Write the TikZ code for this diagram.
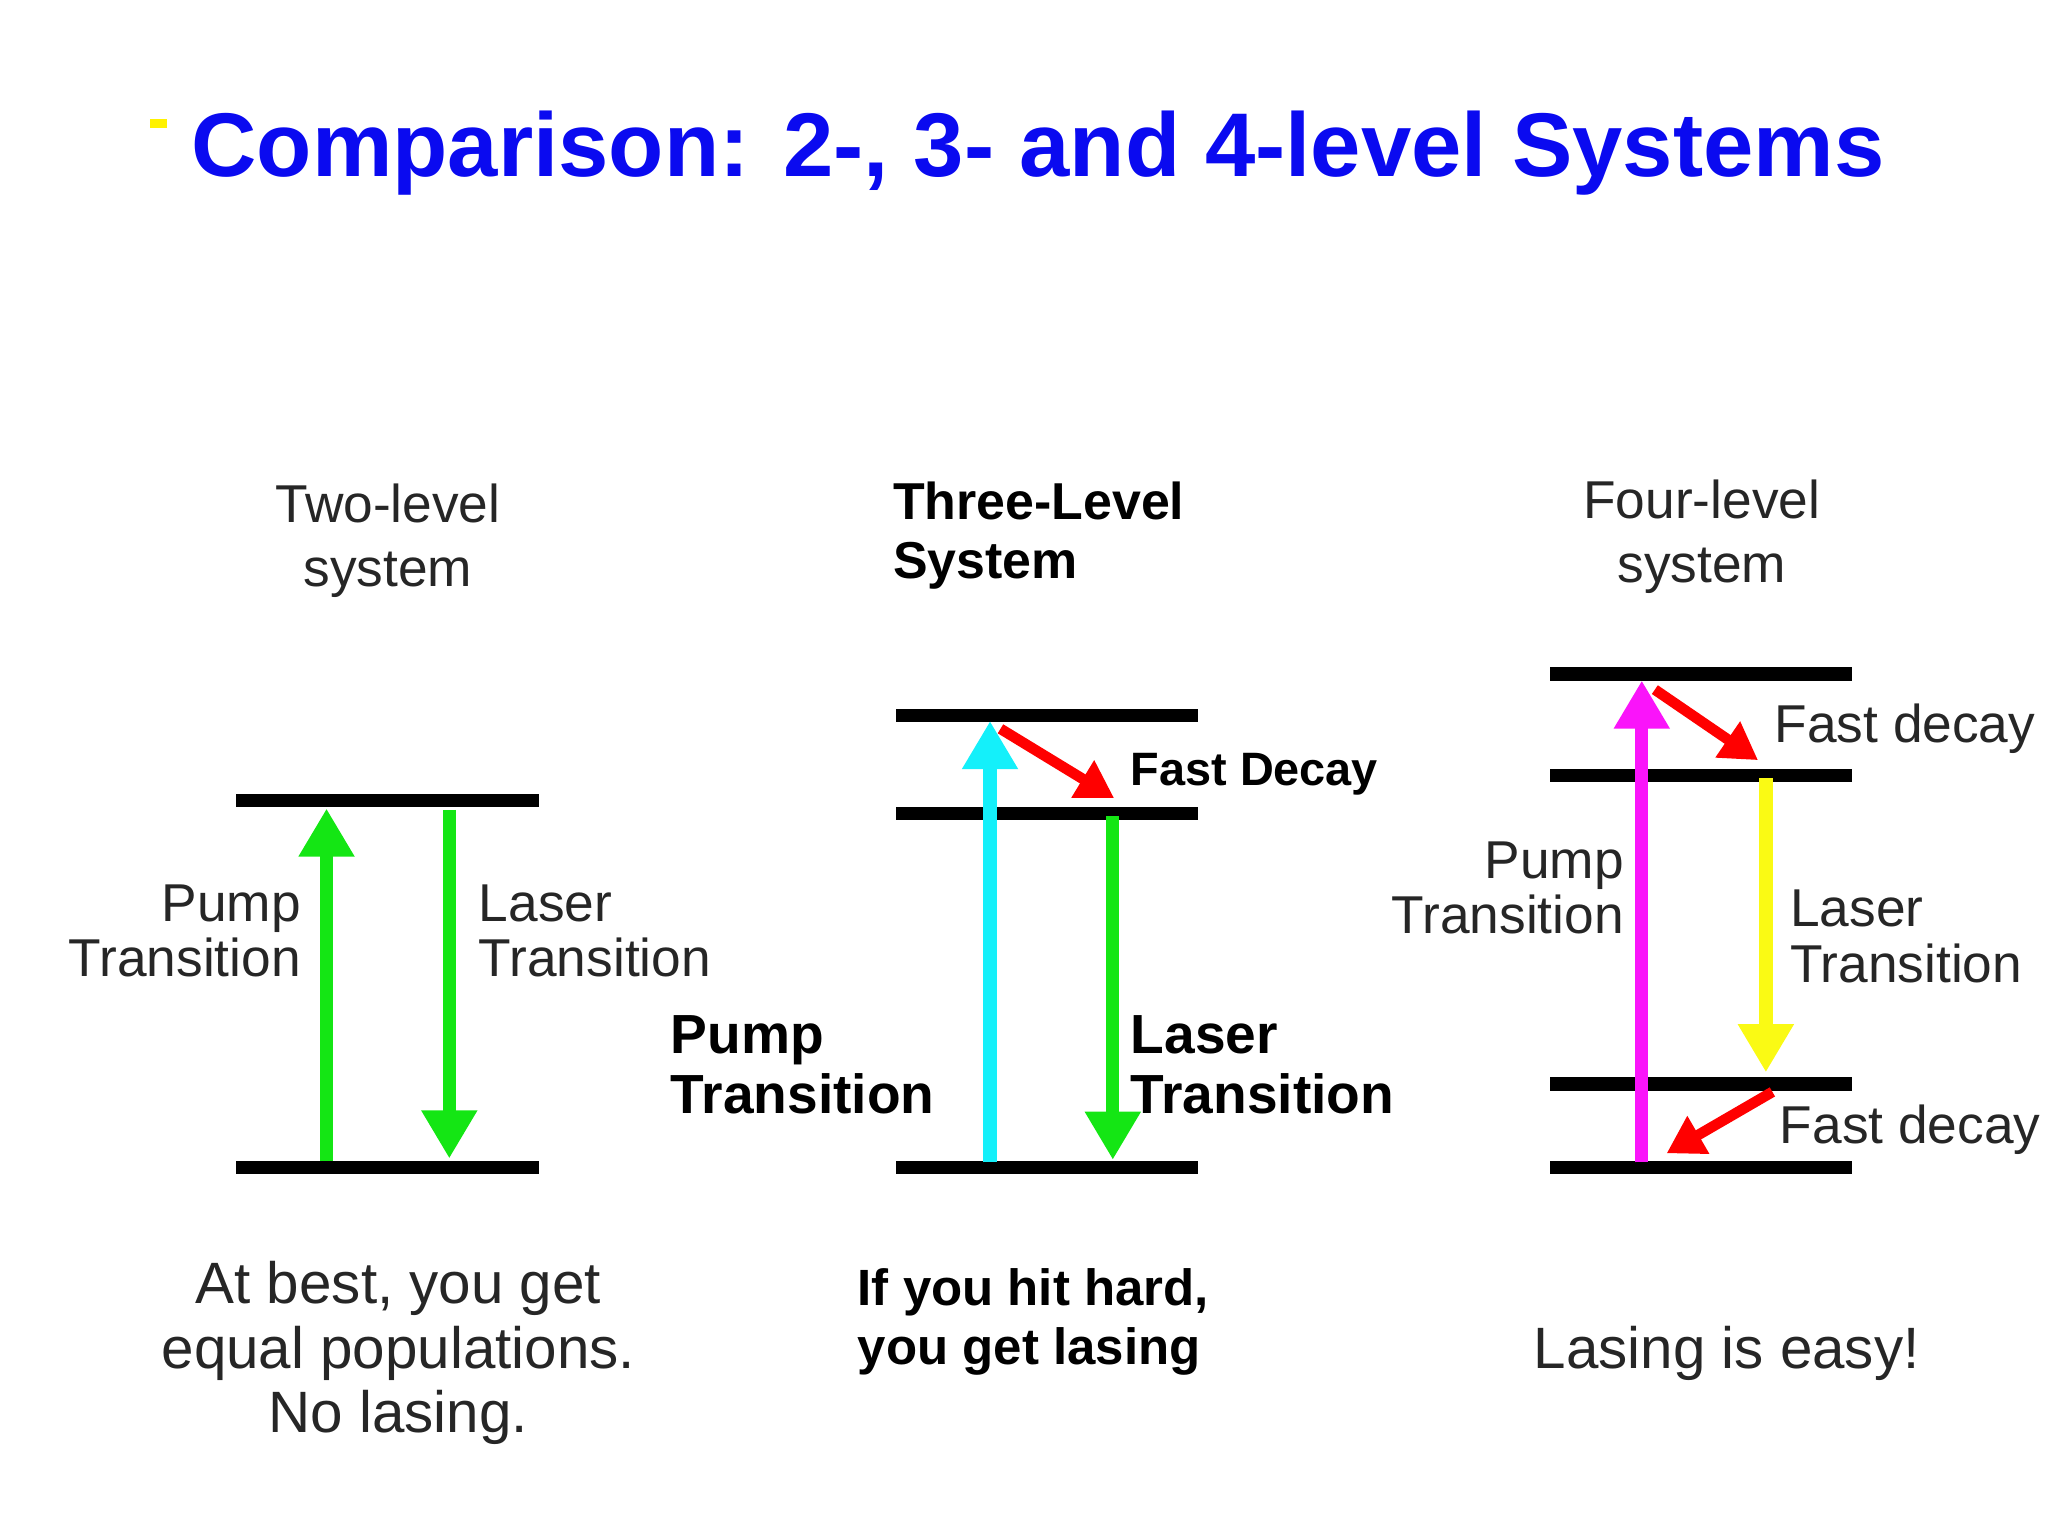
\documentclass[tikz,border=0pt]{standalone}
\usepackage{fontspec}
\setmainfont{Liberation Sans}
\usetikzlibrary{arrows.meta}
\begin{document}
\begin{tikzpicture}[x=0.01cm,y=-0.01cm,
 lvl/.style={line width=2.9pt},
 big/.style={line width=2.9pt,-{Triangle[width=11.5pt,length=10.5pt]}},
 dec/.style={line width=2.3pt,red,-{Triangle[width=9pt,length=8pt]}},
 rt/.style={font=\fontsize{11.6}{13}\selectfont,color=black!85,align=left,inner sep=0pt},
 bt/.style={font=\bfseries\fontsize{12}{13}\selectfont,align=left,inner sep=0pt}]
\definecolor{tblue}{RGB}{10,10,240}
\definecolor{lgreen}{RGB}{20,230,20}
\definecolor{cyanA}{RGB}{20,240,250}
\definecolor{magA}{RGB}{250,20,250}
\definecolor{yelA}{RGB}{250,250,20}
\useasboundingbox (0,0) rectangle (1568,1176);
\fill[yellow] (115,91) rectangle (128,98);
\node[anchor=west,inner sep=0pt,text=tblue,font=\bfseries\fontsize{19.7}{22}\selectfont] (title) at (146,117) {Comparison: 2-, 3- and 4-level Systems};
% two-level
\coordinate (a1) at (181,613); \coordinate (a2) at (413,613);
\coordinate (b1) at (181,894); \coordinate (b2) at (413,894);
\draw[lvl] (a1)--(a2); \draw[lvl] (b1)--(b2);
\coordinate (p0) at (250,889); \coordinate (p1) at (250,619);
\coordinate (l0) at (344,620); \coordinate (l1) at (344,887);
\draw[big,lgreen] (p0)--(p1); \draw[big,lgreen] (l0)--(l1);
\node[rt,align=right,anchor=east] (pt2) at (231,713) {Pump\\[-1pt]Transition};
\node[rt,anchor=west] (lt2) at (366,713) {Laser\\[-1pt]Transition};
\node[rt,align=center] (h2) at (297,414) {Two-level\\[1pt]system};
\node[rt,align=center,font=\fontsize{12.7}{14}\selectfont] (f2) at (305,1036) {At best, you get\\[0pt]equal populations.\\[0pt]No lasing.};
% three-level
\coordinate (c1) at (686,548); \coordinate (c2) at (917,548);
\coordinate (d1) at (686,623); \coordinate (d2) at (917,623);
\coordinate (e1) at (686,894); \coordinate (e2) at (917,894);
\draw[lvl] (c1)--(c2); \draw[lvl] (d1)--(d2); \draw[lvl] (e1)--(e2);
\coordinate (q0) at (758,890); \coordinate (q1) at (758,552);
\coordinate (m0) at (852,625); \coordinate (m1) at (852,888);
\draw[big,cyanA] (q0)--(q1); \draw[big,lgreen] (m0)--(m1);
\coordinate (r0) at (766,558); \coordinate (r1) at (853,611);
\draw[dec] (r0)--(r1);
\node[bt,anchor=west,font=\bfseries\fontsize{10.2}{11}\selectfont] (fd3) at (865,593) {Fast Decay};
\node[bt,anchor=west] (pt3) at (513,815) {Pump\\[0pt]Transition};
\node[bt,anchor=west] (lt3) at (865,815) {Laser\\[0pt]Transition};
\node[bt,anchor=west,font=\bfseries\fontsize{11.3}{13}\selectfont] (h3) at (683,410) {Three-Level\\[0pt]System};
\node[bt,anchor=west,font=\bfseries\fontsize{11.1}{13}\selectfont] (f3) at (656,1012) {If you hit hard,\\[0pt]you get lasing};
% four-level
\coordinate (g1) at (1187,516); \coordinate (g2) at (1418,516);
\coordinate (h1) at (1187,594); \coordinate (h2) at (1418,594);
\coordinate (i1) at (1187,830); \coordinate (i2) at (1418,830);
\coordinate (j1) at (1187,894); \coordinate (j2) at (1418,894);
\draw[lvl] (g1)--(g2); \draw[lvl] (h1)--(h2); \draw[lvl] (i1)--(i2); \draw[lvl] (j1)--(j2);
\coordinate (s0) at (1257,890); \coordinate (s1) at (1257,521);
\coordinate (y0) at (1352,596); \coordinate (y1) at (1352,821);
\draw[big,magA] (s0)--(s1); \draw[big,yelA] (y0)--(y1);
\coordinate (u0) at (1267,528); \coordinate (u1) at (1346,582);
\coordinate (v0) at (1357,836); \coordinate (v1) at (1276,883);
\draw[dec] (u0)--(u1); \draw[dec] (v0)--(v1);
\node[rt,anchor=west] (fd4a) at (1358,558) {Fast decay};
\node[rt,anchor=west] (fd4b) at (1362,865) {Fast decay};
\node[rt,align=right,anchor=east] (pt4) at (1244,680) {Pump\\[-1pt]Transition};
\node[rt,anchor=west] (lt4) at (1370,717) {Laser\\[-1pt]Transition};
\node[rt,align=center] (h4) at (1303,411) {Four-level\\[1pt]system};
\node[rt,font=\fontsize{12.7}{14}\selectfont] (f4) at (1322,1036) {Lasing is easy!};
\end{tikzpicture}
\end{document}
